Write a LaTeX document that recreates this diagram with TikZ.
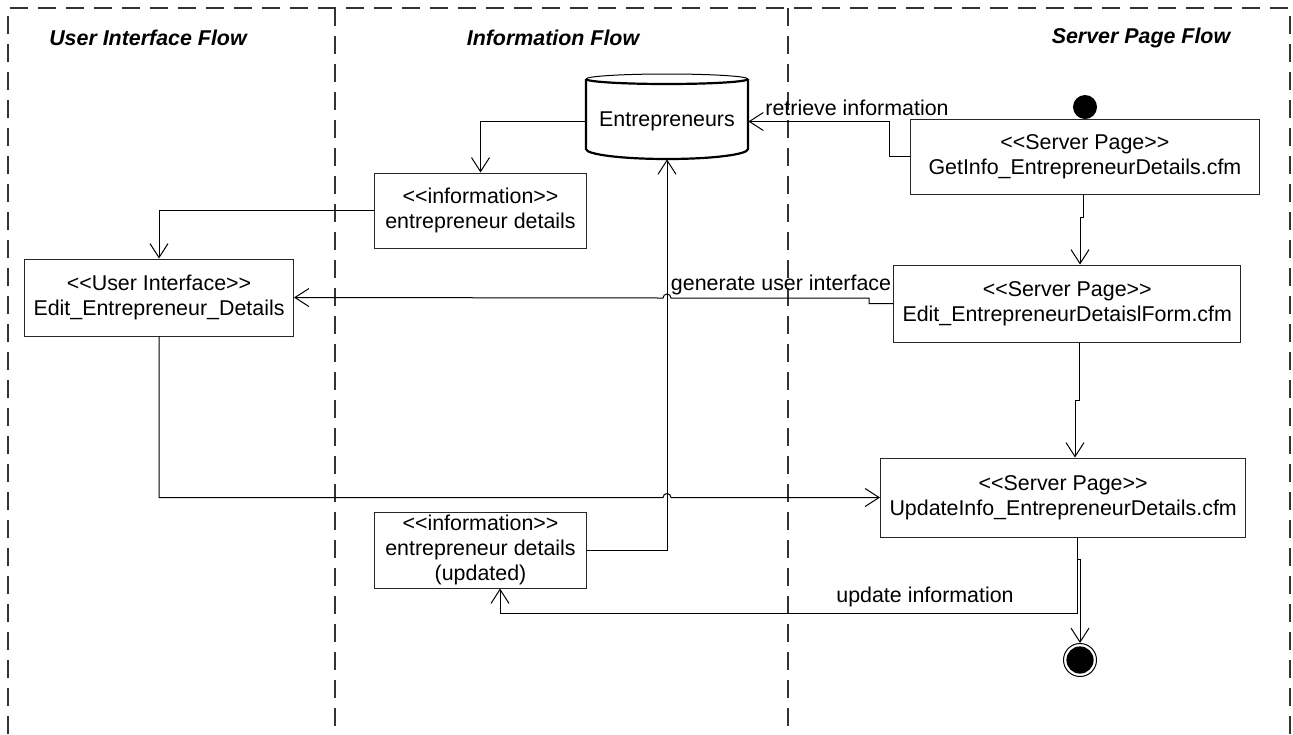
\documentclass[tikz,border=0pt]{standalone}
\usepackage{fontspec}
\setmainfont{Liberation Sans}[Ligatures=TeXOff]
\usetikzlibrary{arrows.meta}
\begin{document}
\begin{tikzpicture}[x=0.5pt,y=-0.5pt,
  every node/.style={font=\fontsize{10.7}{12.4}\selectfont},
  box/.style={draw=black!85, line width=0.5pt, rectangle, align=center, inner ysep=0pt, inner xsep=4.5pt, anchor=west},
  flow/.style={draw=black, line width=0.5pt, -{Straight Barb[length=7pt,width=9pt,line width=0.5pt]}},
  lane/.style={draw=black!80, line width=0.6pt, dash pattern=on 9pt off 5pt},
  lanetitle/.style={font=\fontsize{10.7}{12.4}\selectfont\bfseries\itshape},
  lbl/.style={inner sep=0pt}]
\useasboundingbox (0,0) rectangle (1293,734);

% swimlanes
\draw[lane] (8,734) -- (8,8) -- (1290,8) -- (1290,734);
\draw[lane] (335,8) -- (335,734);
\draw[lane] (788,8) -- (788,734);
\node[lanetitle] (t1) at (148,38) {User Interface Flow};
\node[lanetitle] (t2) at (553,38) {Information Flow};
\node[lanetitle] (t3) at (1141,38) {Server Page Flow};

% data store
\node[minimum width=81pt, minimum height=37.5pt, inner sep=0pt] (cyl) at (667,121.5) {Entrepreneurs};
\draw[line width=0.5pt] (586,79) arc[start angle=180,end angle=0,x radius=40.5pt,y radius=2.5pt];
\draw[line width=1.1pt] (586,79) arc[start angle=180,end angle=360,x radius=40.5pt,y radius=2.5pt];
\draw[line width=1.1pt] (586,79) -- (586,149) arc[start angle=180,end angle=360,x radius=40.5pt,y radius=5pt] -- (748,79);

% states and pages
\fill (1085,107) circle[radius=6pt];
\coordinate (init) at (1085,107);
\node[box, inner xsep=9pt, minimum height=37.5pt] (getinfo) at (910,156.5)
  {<<Server Page>>\\GetInfo\_EntrepreneurDetails.cfm};
\node[box, minimum width=106pt, minimum height=37.5pt] (info1) at (374,210.5)
  {<<information>>\\entrepreneur details};
\node[box, minimum width=133pt, minimum height=38.5pt] (ui) at (24,297.5)
  {<<User Interface>>\\Edit\_Entrepreneur\_Details};
\node[box, minimum height=38.5pt] (edit) at (893,303.5)
  {<<Server Page>>\\Edit\_EntrepreneurDetaislForm.cfm};
\node[box, minimum height=39.5pt] (update) at (880,497.5)
  {<<Server Page>>\\UpdateInfo\_EntrepreneurDetails.cfm};
\node[box, minimum width=106pt, minimum height=38pt] (info2) at (374,550)
  {<<information>>\\entrepreneur details\\(updated)};
\node[circle, draw=black, line width=0.5pt, minimum size=16.5pt, inner sep=0pt] (final) at (1080,660) {};
\fill (final.center) circle[radius=6.8pt];

% connectors
\draw[flow] (init) -- (init |- getinfo.north);
\draw[flow] (getinfo.west) -- ++(-21,0) |- (cyl.east);
\node[lbl] (l1) at (857,108) {retrieve information};
\draw[flow] (cyl.west) -| (info1.north);
\draw[flow] (info1.west) -| (ui.north);
\draw[flow] (edit.west) -- ++(-24,0) -- ++(0,-5.5) -- (671,298)
  arc[start angle=0,end angle=180,radius=2pt] -- (ui.east);
\node[lbl] (l2) at (781,285) {generate user interface};
\draw[flow] (ui.south) -- (ui.south |- update.west) -- (663,497.5)
  arc[start angle=180,end angle=0,radius=2pt] -- (update.west);
\draw[flow] (info2.east) -| (cyl.south);
\draw[flow] (getinfo.south -| 1083,0) -- (1083,217) -- (1080,217) -- (edit.north -| 1080,0);
\draw[flow] (edit.south -| 1079,0) -- (1079,400) -- (1075,400) -- (update.north -| 1075,0);
\draw[flow] (update.south -| 1077,0) -- (1077,613) -| (info2.south -| 500,0);
\node[lbl] (l3) at (925,597) {update information};
\draw[flow] (update.south -| 1077,0) -- (1077,559) -- (1080,559) -- (final.north);
\end{tikzpicture}
\end{document}
